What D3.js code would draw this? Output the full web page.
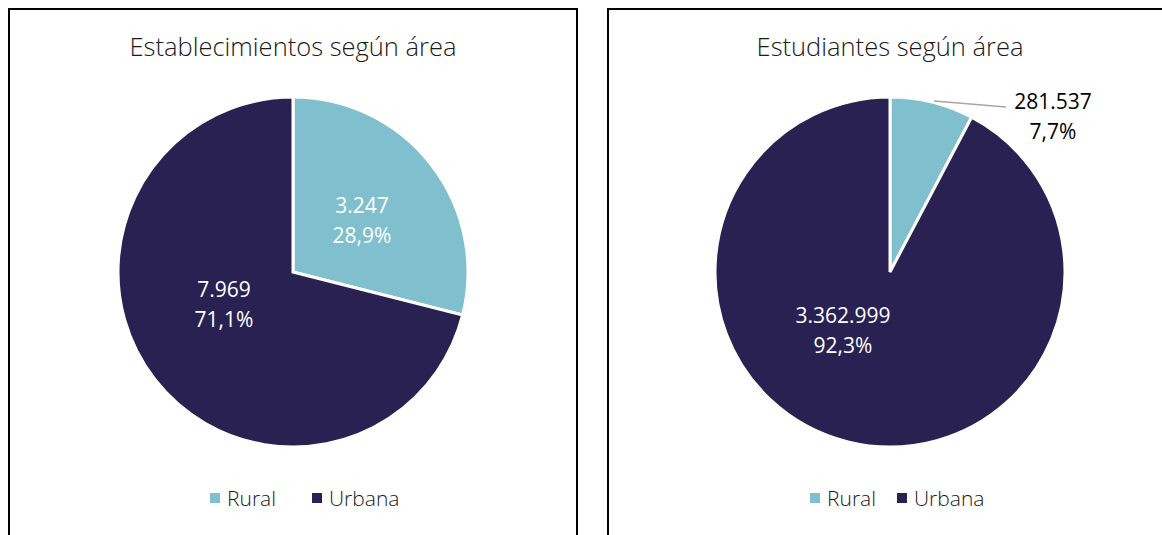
<!DOCTYPE html>
<html>
<head>
<meta charset="utf-8">
<script src="https://cdn.jsdelivr.net/npm/d3@7"></script>
<style>
  body { margin: 0; background: #fff; }
  svg { display: block; font-family: "Open Sans", sans-serif; }
</style>
</head>
<body>
<svg id="chart" width="1162" height="535"></svg>
<script>
// datos
var categories = ["Rural", "Urbana"];
var colors = ["#7fbfce", "#282151"];
var establecimientos = [3247, 7969];
var estudiantes = [281537, 3362999];
var titles = ["Establecimientos según área", "Estudiantes según área"];

var fmtNum = function(v) { return d3.format(",")(v).replace(/,/g, "."); };
var fmtPct = function(v) { return d3.format(".1f")(v * 100).replace(".", ",") + "%"; };

var svg = d3.select("#chart");

// marcos de los paneles
svg.append("rect").attr("x", 9).attr("y", 9).attr("width", 568).attr("height", 540)
   .attr("fill", "none").attr("stroke", "#000").attr("stroke-width", 2);
svg.append("rect").attr("x", 608).attr("y", 9).attr("width", 570).attr("height", 540)
   .attr("fill", "none").attr("stroke", "#000").attr("stroke-width", 2);

var radius = 175;
var pie = d3.pie().sort(null);
var arc = d3.arc().innerRadius(0).outerRadius(radius);

function drawPie(cx, data, title, labelCfg, legendX, legendGap) {
  var g = svg.append("g").attr("transform", "translate(" + cx + ",272)");
  var total = d3.sum(data);
  var arcs = pie(data);

  svg.append("text").attr("x", cx).attr("y", 56).attr("text-anchor", "middle")
     .attr("font-size", 25.5).attr("font-weight", 300).attr("fill", "#1a1a1a").text(title);

  g.selectAll("path").data(arcs).enter().append("path")
   .attr("d", arc)
   .attr("fill", function(d, i) { return colors[i]; })
   .attr("stroke", "#fff").attr("stroke-width", 3);

  arcs.forEach(function(d, i) {
    var c = labelCfg[i];
    var t = g.append("text").attr("text-anchor", "middle")
      .attr("font-size", 21).attr("fill", c.color);
    t.append("tspan").attr("x", c.x).attr("y", c.y + 1).text(fmtNum(data[i]));
    t.append("tspan").attr("x", c.x).attr("y", c.y + 31).text(fmtPct(data[i] / total));
    if (c.leader) {
      g.append("polyline").attr("points", c.leader.join(" "))
       .attr("fill", "none").attr("stroke", "#a6a6a6").attr("stroke-width", 1.5);
    }
  });

  var lg = svg.append("g").attr("transform", "translate(" + legendX + ",498)");
  var x = 0;
  categories.forEach(function(cat, i) {
    lg.append("rect").attr("x", x).attr("y", -5).attr("width", 10).attr("height", 10)
      .attr("fill", colors[i]);
    lg.append("text").attr("x", x + 17).attr("y", 8).attr("font-size", 21)
      .attr("font-weight", 300).attr("fill", "#1a1a1a").text(cat);
    x += legendGap;
  });
}

drawPie(293, establecimientos, titles[0],
  [{x: 69, y: -60, color: "#fff"}, {x: -69, y: 24, color: "#fff"}], 210, 102);
drawPie(890, estudiantes, titles[1],
  [{x: 163, y: -164, color: "#000", leader: [[44, -171], [116, -165]]},
   {x: -47, y: 50, color: "#fff"}], 810, 87);
</script>
</body>
</html>
